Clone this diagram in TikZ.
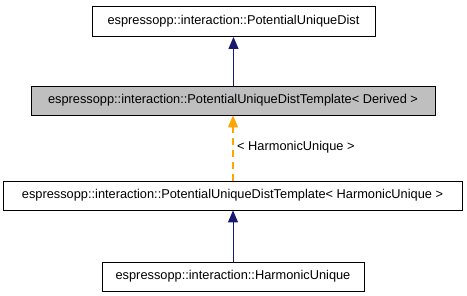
\documentclass[tikz,border=0pt]{standalone}
\usepackage{fontspec}
\setmainfont{Liberation Sans}
\usetikzlibrary{arrows.meta}
\definecolor{edgeblue}{HTML}{191970}
\definecolor{edgeorange}{HTML}{FFA500}
\definecolor{boxgray}{HTML}{BFBFBF}
\begin{document}
\begin{tikzpicture}[x=1pt,y=-1pt,
  classbox/.style={draw=black, line width=0.9pt, fill=white, inner sep=0pt,
    font=\fontsize{12.8}{15}\selectfont},
  inherit/.style={draw=edgeblue, line width=0.9pt, -{Triangle[length=12pt,width=10pt]}},
  templ/.style={draw=edgeorange, line width=1.1pt, dash pattern=on 7pt off 5pt,
    -{Triangle[length=12pt,width=10pt]}},
  lbl/.style={font=\fontsize{12.8}{15}\selectfont, anchor=west, inner sep=0pt}]
\useasboundingbox (0,0) rectangle (467,296);
\node[classbox, minimum width=283pt, minimum height=30pt] (base) at (233.5,21.5)
  {espressopp::interaction::PotentialUniqueDist};
\node[classbox, fill=boxgray, minimum width=404pt, minimum height=29pt] (tmpl) at (233,100.5)
  {espressopp::interaction::PotentialUniqueDistTemplate< Derived >};
\node[classbox, minimum width=459pt, minimum height=29pt] (inst) at (232.5,195.5)
  {espressopp::interaction::PotentialUniqueDistTemplate< HarmonicUnique >};
\node[classbox, minimum width=262pt, minimum height=29pt] (harm) at (233,276.5)
  {espressopp::interaction::HarmonicUnique};
\draw[inherit] (tmpl.north -| base.south) -- (base.south);
\draw[templ] (inst.north -| 233,0) -- (tmpl.south -| 233,0);
\draw[inherit] (harm.north -| 233,0) -- (inst.south -| 233,0);
\node[lbl] (tlabel) at (237,147) {< HarmonicUnique >};
\end{tikzpicture}
\end{document}
